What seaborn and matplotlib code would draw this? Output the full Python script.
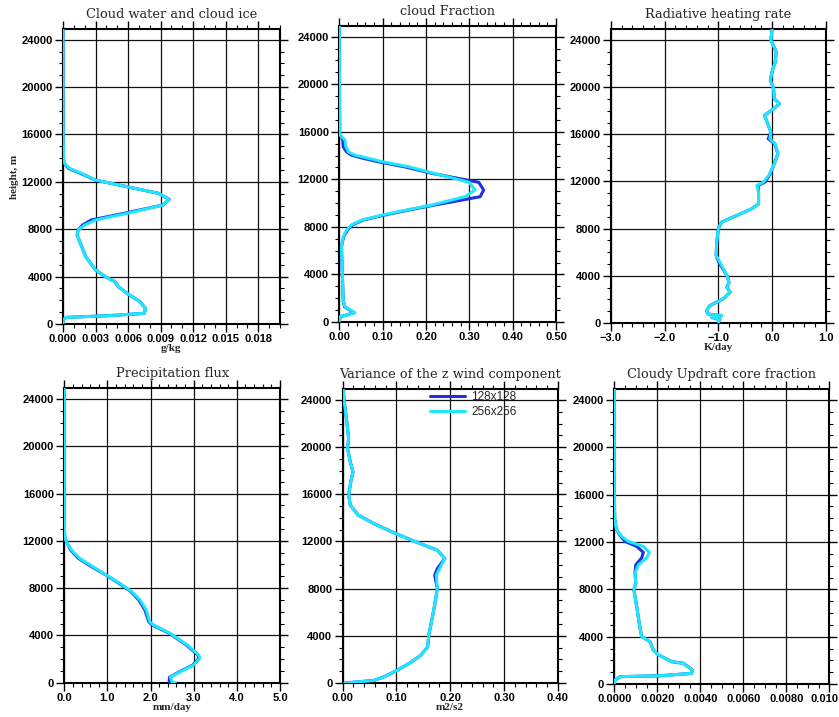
import pandas as pd
import numpy as np
import seaborn as sns
import matplotlib.pyplot as plt
from matplotlib.ticker import MultipleLocator
from matplotlib.transforms import ScaledTranslation

# runs
runs = ['128x128', '256x256']
colors = {'128x128': '#1f2ee6', '256x256': '#1ee6ff'}

# Cloud water and cloud ice (g/kg)
z_cw = [0, 340, 560, 700, 900, 1320, 1880, 2590, 3150, 3570, 3990, 4560, 5680, 6810, 7510, 7930,
        8350, 8780, 9340, 10040, 10520, 11030, 11590, 12150, 12720, 13140, 13560, 14000, 16000, 20000, 24900]
cw_128 = [0.0, 0.0, 0.0003, 0.0041, 0.0075, 0.0076, 0.0071, 0.0059, 0.0051, 0.0048, 0.0039, 0.0030, 0.0021,
          0.0016, 0.0013, 0.0014, 0.0018, 0.0026, 0.0056, 0.0092, 0.0098, 0.0088, 0.0059, 0.0030, 0.0016,
          0.0005, 0.00012, 0.00004, 0.00002, 0.0, 0.0]
cw_256 = [0.0, 0.0, 0.0003, 0.0041, 0.0075, 0.0076, 0.0071, 0.0059, 0.0051, 0.0048, 0.0039, 0.0030, 0.0021,
          0.0016, 0.0013, 0.0014, 0.0020, 0.0030, 0.0059, 0.0092, 0.0098, 0.0088, 0.0059, 0.0030, 0.0017,
          0.0006, 0.00015, 0.00005, 0.00002, 0.0, 0.0]

# cloud fraction
z_cf = [0, 450, 590, 780, 1290, 1850, 4090, 6330, 7170, 7740, 8160, 8580, 9000, 9420, 9840, 10540, 11100,
        11750, 12500, 13060, 13480, 13770, 14040, 14300, 14750, 15310, 15590, 15800, 20000, 24900]
cf_128 = [0.0, 0.002, 0.017, 0.034, 0.012, 0.009, 0.007, 0.005, 0.010, 0.019, 0.030, 0.055, 0.105, 0.16,
          0.22, 0.325, 0.333, 0.322, 0.215, 0.15, 0.09, 0.055, 0.028, 0.017, 0.009, 0.008, 0.004, 0.001,
          0.0005, 0.0]
cf_256 = [0.0, 0.002, 0.017, 0.036, 0.013, 0.009, 0.007, 0.005, 0.009, 0.017, 0.028, 0.052, 0.10, 0.155,
          0.213, 0.29, 0.313, 0.30, 0.22, 0.16, 0.10, 0.067, 0.036, 0.021, 0.015, 0.013, 0.005, 0.001,
          0.0005, 0.0]

# radiative heating rate (K/day)
z_rad = [0, 110, 280, 480, 620, 760, 1040, 1470, 2040, 2600, 3030, 3450, 4020, 5150, 5710, 6850, 7980,
         8550, 9110, 9680, 10100, 11090, 11660, 11940, 12510, 13360, 14350, 15200, 15620, 16190, 16900,
         17600, 18170, 18590, 19020, 19870, 20570, 21280, 22130, 22980, 23970, 24900]
rad_128 = [-1.0, -1.0, -0.97, -1.12, -0.94, -1.19, -1.22, -1.16, -0.91, -0.78, -0.84, -0.80, -0.84, -0.99,
           -1.04, -1.03, -1.0, -0.94, -0.66, -0.38, -0.25, -0.25, -0.26, -0.13, -0.05, 0.03, 0.11, 0.05,
           -0.07, -0.02, -0.08, -0.14, 0.03, 0.14, 0.04, 0.03, -0.03, 0.0, 0.06, 0.08, -0.02, 0.0]
rad_256 = [-1.0, -1.0, -0.97, -1.12, -0.94, -1.19, -1.22, -1.16, -0.91, -0.78, -0.84, -0.80, -0.84, -0.97,
           -1.04, -1.03, -1.0, -0.94, -0.66, -0.38, -0.25, -0.25, -0.28, -0.16, -0.06, 0.03, 0.11, 0.06,
           -0.04, -0.02, -0.08, -0.14, 0.03, 0.14, 0.04, 0.03, -0.03, 0.0, 0.06, 0.08, -0.02, 0.0]

# precipitation flux (mm/day)
z_pr = [0, 60, 460, 930, 1500, 2060, 2340, 3190, 4170, 4880, 5150, 6140, 6990, 7690, 8400, 9100, 9800,
        10510, 11210, 11910, 12340, 13500, 16000, 20000, 24900]
pr_128 = [2.45, 2.43, 2.44, 2.67, 2.98, 3.12, 3.10, 2.83, 2.44, 2.04, 1.96, 1.87, 1.73, 1.55, 1.27, 0.97,
          0.64, 0.33, 0.15, 0.05, 0.01, 0.0, 0.0, 0.0, 0.0]
pr_256 = [2.57, 2.50, 2.46, 2.69, 3.0, 3.14, 3.12, 2.85, 2.46, 2.07, 1.98, 1.90, 1.76, 1.57, 1.29, 0.98,
          0.67, 0.36, 0.17, 0.05, 0.01, 0.0, 0.0, 0.0, 0.0]

# variance of w (m2/s2)
z_w2 = [0, 220, 510, 930, 1640, 2340, 3060, 4040, 5180, 6590, 8010, 9140, 9700, 10550, 11260, 11970,
        12680, 13520, 14230, 15080, 15930, 17060, 17910, 18760, 19890, 20740, 22160, 24000, 24900]
w2_128 = [0.004, 0.058, 0.076, 0.095, 0.123, 0.145, 0.158, 0.16, 0.165, 0.171, 0.176, 0.171, 0.176, 0.19,
          0.176, 0.136, 0.098, 0.058, 0.029, 0.014, 0.011, 0.015, 0.019, 0.014, 0.009, 0.011, 0.0075,
          0.0025, 0.001]
w2_256 = [0.004, 0.058, 0.076, 0.095, 0.123, 0.145, 0.158, 0.16, 0.165, 0.171, 0.176, 0.174, 0.18, 0.19,
          0.176, 0.136, 0.098, 0.058, 0.029, 0.014, 0.011, 0.015, 0.019, 0.014, 0.009, 0.011, 0.0075,
          0.0025, 0.001]

# cloudy updraft core fraction
z_cu = [0, 340, 620, 700, 900, 1190, 1750, 1890, 2460, 2880, 3580, 4010, 5140, 6550, 7960, 8530, 9380,
        10080, 10650, 11120, 11630, 12050, 12480, 13040, 13890, 16000, 20000, 24900]
cu_128 = [0.0, 0.00003, 0.00027, 0.00213, 0.0036, 0.00363, 0.00321, 0.00267, 0.00205, 0.00181, 0.00166,
          0.00127, 0.00116, 0.00104, 0.00091, 0.001, 0.00096, 0.001, 0.00127, 0.00135, 0.00104, 0.0005,
          0.0003, 0.0001, 0.00002, 0.0, 0.0, 0.0]
cu_256 = [0.0, 0.00003, 0.00027, 0.00213, 0.0036, 0.00363, 0.00321, 0.00267, 0.00205, 0.00181, 0.00166,
          0.00127, 0.00116, 0.00104, 0.00091, 0.001, 0.00096, 0.00112, 0.0015, 0.00163, 0.00135, 0.00065,
          0.00034, 0.0001, 0.00002, 0.0, 0.0, 0.0]

panels = [
    dict(title='Cloud water and cloud ice', z=z_cw, a=cw_128, b=cw_256, xlim=(0, 0.02), major=0.003,
         minor=0.001, fmt='{:.3f}', xlabel='g/kg', ylabel='height, m',
         pos=[0.0751, 0.5481, 0.2586, 0.4114]),
    dict(title='cloud Fraction', z=z_cf, a=cf_128, b=cf_256, xlim=(0, 0.5), major=0.1, minor=0.02,
         fmt='{:.2f}', xlabel='', ylabel='', pos=[0.4044, 0.5509, 0.2583, 0.4128]),
    dict(title='Radiative heating rate', z=z_rad, a=rad_128, b=rad_256, xlim=(-3, 1), major=1.0,
         minor=0.2, fmt='{:.1f}', xlabel='K/day', ylabel='', pos=[0.7282, 0.5495, 0.2559, 0.4096]),
    dict(title='Precipitation flux', z=z_pr, a=pr_128, b=pr_256, xlim=(0, 5), major=1.0, minor=0.2,
         fmt='{:.1f}', xlabel='mm/day', ylabel='', pos=[0.0766, 0.0478, 0.2571, 0.4106]),
    dict(title='Variance of the z wind component', z=z_w2, a=w2_128, b=w2_256, xlim=(0, 0.4), major=0.1,
         minor=0.02, fmt='{:.2f}', xlabel='m2/s2', ylabel='', pos=[0.4085, 0.0474, 0.2563, 0.4096]),
    dict(title='Cloudy Updraft core fraction', z=z_cu, a=cu_128, b=cu_256, xlim=(0, 0.01), major=0.002,
         minor=0.0005, fmt='{:.4f}', xlabel='', ylabel='', pos=[0.7322, 0.0460, 0.2563, 0.4110]),
]

sns.set_theme(style='white')
plt.rcParams['font.family'] = ['Liberation Sans', 'DejaVu Sans']
plt.rcParams['axes.unicode_minus'] = True

fig = plt.figure(figsize=(8.39, 7.17), dpi=100)

for i, p in enumerate(panels):
    ax = fig.add_axes(p['pos'])
    df = pd.concat([
        pd.DataFrame({'z': p['z'], 'val': p['a'], 'run': runs[0]}),
        pd.DataFrame({'z': p['z'], 'val': p['b'], 'run': runs[1]}),
    ])
    sns.lineplot(data=df, x='val', y='z', hue='run', palette=colors, sort=False, estimator=None,
                 orient='y', lw=2.2, ax=ax, legend=(i == 4), zorder=3)

    ax.set_xlim(*p['xlim'])
    ax.set_ylim(0, 24900)
    ticks = np.arange(p['xlim'][0], p['xlim'][1] + 1e-9, p['major'])
    labels = [p['fmt'].format(t).replace('-', '\u2212') for t in ticks]
    if i == 5:
        # last label sits on the figure edge
        labels[-1] = '0.010'
    ax.set_xticks(ticks)
    ax.set_xticklabels(labels)
    ax.xaxis.set_minor_locator(MultipleLocator(p['minor']))
    ax.set_yticks(np.arange(0, 24001, 4000))
    ax.yaxis.set_minor_locator(MultipleLocator(1000))

    ax.grid(which='major', color='#111111', lw=0.9)
    ax.tick_params(which='both', direction='out', top=True, right=True, bottom=True, left=True,
                   colors='black', labelsize=8, pad=1.5)
    ax.tick_params(which='major', length=6, width=1.0)
    ax.tick_params(which='minor', length=3, width=0.8)
    for lab in ax.get_xticklabels() + ax.get_yticklabels():
        lab.set_fontweight('bold')
    if i == 5:
        last = ax.get_xticklabels()[-1]
        last.set_transform(last.get_transform() + ScaledTranslation(-5 / 100, 0, fig.dpi_scale_trans))
    for s in ax.spines.values():
        s.set_color('black')
        s.set_linewidth(1.5)

    ax.set_title(p['title'], fontsize=9.3, family=['DejaVu Serif'], pad=8)
    ax.set_xlabel(p['xlabel'], fontsize=8, family=['Liberation Serif'], fontweight='bold', labelpad=0)
    ax.set_ylabel(p['ylabel'], fontsize=8, family=['Liberation Serif'], fontweight='bold', labelpad=2)

    if i == 4:
        handles, labs = ax.get_legend_handles_labels()
        ax.legend(handles, labs, loc='upper left', bbox_to_anchor=(0.405, 0.995), frameon=False,
                  fontsize=8.5, handlelength=3.0, handletextpad=0.5, labelspacing=0.25,
                  borderpad=0, borderaxespad=0)

fig.savefig('out.png', dpi=100)
